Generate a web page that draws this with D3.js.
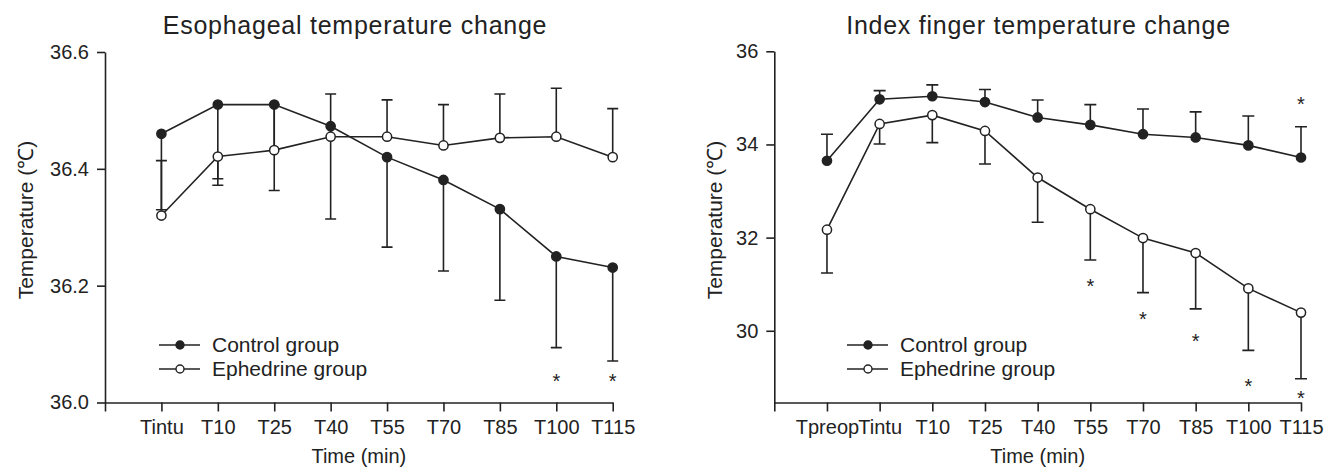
<!DOCTYPE html>
<html>
<head>
<meta charset="utf-8">
<script src="https://cdn.jsdelivr.net/npm/d3@7"></script>
<style>
    body { margin: 0; background: #fff; }
    svg text { font-family: "Liberation Sans", Arial, sans-serif; fill: #222; }
</style>
</head>
<body>
<div id="chart"></div>
<script>
//Data
const esoLabels = ["Tintu", "T10", "T25", "T40", "T55", "T70", "T85", "T100", "T115"]
const esoControl = [36.46, 36.51, 36.51, 36.473, 36.42, 36.381, 36.331, 36.25, 36.231]
const esoControlSD = [0.13, 0.138, 0.147, 0.159, 0.154, 0.156, 0.156, 0.156, 0.16]
const esoEphedrine = [36.32, 36.421, 36.432, 36.455, 36.455, 36.44, 36.453, 36.455, 36.42]
//negative value = bar drawn the other way in the figure (T10)
const esoEphedrineSD = [0.094, -0.038, 0.078, 0.073, 0.063, 0.07, 0.075, 0.083, 0.083]
const esoTicks = [36.0, 36.2, 36.4, 36.6]
const esoStars = [{i: 8, v: 36.044}, {i: 9, v: 36.044}]

const fingerLabels = ["Tpreop", "Tintu", "T10", "T25", "T40", "T55", "T70", "T85", "T100", "T115"]
const fingerControl = [33.65, 34.97, 35.035, 34.91, 34.58, 34.42, 34.22, 34.15, 33.98, 33.72]
const fingerControlSD = [0.57, 0.185, 0.245, 0.27, 0.375, 0.435, 0.54, 0.55, 0.63, 0.66]
const fingerEphedrine = [32.17, 34.44, 34.63, 34.29, 33.29, 32.61, 31.99, 31.67, 30.91, 30.39]
const fingerEphedrineSD = [0.93, 0.43, 0.59, 0.71, 0.96, 1.09, 1.17, 1.2, 1.33, 1.42]
const fingerTicks = [30, 32, 34, 36]
const fingerStars = [{i: 6, v: 31.04}, {i: 7, v: 30.34}, {i: 8, v: 29.86}, {i: 9, v: 28.90}, {i: 10, v: 28.64}, {i: 10, v: 34.955}]

const ink = "#222"

const $svg = d3.select("#chart").append("svg")
    .attr("width", 1328)
    .attr("height", 470)

function panel(opts) {
    const n = opts.labels.length
    const xScale = d3.scaleLinear()
        .domain([0, n])
        .range([opts.left, opts.right])
    const yScale = d3.scaleLinear()
        .domain(opts.yDomain)
        .range([402.5, opts.top])

    const $g = $svg.append("g")

    //axes
    $g.append("g")
        .attr("transform", `translate(0, ${yScale.range()[0]})`)
        .call(d3.axisBottom(xScale)
            .tickValues(d3.range(0, n + 1))
            .tickFormat(i => i === 0 ? "" : opts.labels[i - 1])
            .tickSize(9)
            .tickSizeOuter(0)
            .tickPadding(8))
        .call(g => g.select(".domain").attr("stroke", ink).attr("stroke-width", 1.6))
        .call(g => g.selectAll(".tick line").attr("stroke", ink).attr("stroke-width", 1.6))
        .call(g => g.selectAll(".tick text").attr("font-size", 20).attr("fill", ink))

    $g.append("g")
        .attr("transform", `translate(${opts.left}, 0)`)
        .call(d3.axisLeft(yScale)
            .tickValues(opts.ticks)
            .tickFormat(opts.format)
            .tickSize(8)
            .tickSizeOuter(0)
            .tickPadding(8))
        .call(g => g.select(".domain").attr("stroke", ink).attr("stroke-width", 1.6))
        .call(g => g.selectAll(".tick line").attr("stroke", ink).attr("stroke-width", 1.6))
        .call(g => g.selectAll(".tick text").attr("font-size", 20).attr("fill", ink))

    //titles
    $g.append("text")
        .attr("x", opts.titleX)
        .attr("y", 33.5)
        .attr("text-anchor", "middle")
        .attr("font-size", 25)
        .attr("letter-spacing", 0.75)
        .text(opts.title)

    $g.append("text")
        .attr("x", (opts.left + opts.right) / 2)
        .attr("y", 463)
        .attr("text-anchor", "middle")
        .attr("font-size", 20)
        .text("Time (min)")

    $g.append("text")
        .attr("transform", `translate(${opts.yLabelX}, 220) rotate(-90)`)
        .attr("text-anchor", "middle")
        .attr("font-size", 21)
        .text("Temperature (℃)")

    const series = [
        {values: opts.control, sd: opts.controlSD, dir: opts.controlDir, fill: ink},
        {values: opts.ephedrine, sd: opts.ephedrineSD, dir: -opts.controlDir, fill: "#fff"},
    ]
    const cap = opts.cap

    //error bars
    series.forEach(s => {
        const ends = s.values.map((v, k) => v + s.dir * s.sd[k])
        $g.append("g").selectAll("path")
            .data(s.values)
            .enter().append("path")
            .attr("fill", "none")
            .attr("stroke", ink)
            .attr("stroke-width", 1.6)
            .attr("d", (v, k) => {
                const x = xScale(k + 1)
                const y0 = yScale(v)
                const y1 = yScale(ends[k])
                return `M${x},${y0}V${y1}M${x - cap},${y1}H${x + cap}`
            })
    })

    //lines
    const line = d3.line()
        .x((d, k) => xScale(k + 1))
        .y(d => yScale(d))
    series.forEach(s => {
        $g.append("path")
            .datum(s.values)
            .attr("fill", "none")
            .attr("stroke", ink)
            .attr("stroke-width", 1.6)
            .attr("d", line)
    })

    //markers
    series.forEach(s => {
        $g.append("g").selectAll("circle")
            .data(s.values)
            .enter().append("circle")
            .attr("cx", (d, k) => xScale(k + 1))
            .attr("cy", d => yScale(d))
            .attr("r", 4.6)
            .attr("fill", s.fill)
            .attr("stroke", ink)
            .attr("stroke-width", 1.5)
    })

    //significance marks
    $g.append("g").selectAll("text")
        .data(opts.stars)
        .enter().append("text")
        .attr("x", d => xScale(d.i))
        .attr("y", d => yScale(d.v) + 11)
        .attr("text-anchor", "middle")
        .attr("font-size", 20)
        .text("*")

    //legend
    const $legend = $g.append("g")
        .attr("transform", `translate(${opts.legendX}, 345)`)
    series.forEach((s, k) => {
        const $row = $legend.append("g").attr("transform", `translate(0, ${k * 24})`)
        $row.append("line")
            .attr("x1", 0).attr("x2", 41)
            .attr("stroke", ink).attr("stroke-width", 1.6)
        $row.append("circle")
            .attr("cx", 21).attr("r", 4)
            .attr("fill", s.fill).attr("stroke", ink).attr("stroke-width", 1.4)
        $row.append("text")
            .attr("x", 53)
            .attr("dy", "0.35em")
            .attr("font-size", 21)
            .text(k === 0 ? "Control group" : "Ephedrine group")
    })
}

panel({
    title: "Esophageal temperature change",
    labels: esoLabels,
    control: esoControl, controlSD: esoControlSD,
    ephedrine: esoEphedrine, ephedrineSD: esoEphedrineSD,
    controlDir: -1,
    ticks: esoTicks, format: d3.format(".1f"),
    yDomain: [36.0, 36.6],
    stars: esoStars,
    left: 105, right: 612.7, top: 52,
    titleX: 355, yLabelX: 33, legendX: 159, cap: 5.5,
})

panel({
    title: "Index finger temperature change",
    labels: fingerLabels,
    control: fingerControl, controlSD: fingerControlSD,
    ephedrine: fingerEphedrine, ephedrineSD: fingerEphedrineSD,
    controlDir: 1,
    ticks: fingerTicks, format: d3.format("d"),
    yDomain: [28.46, 36],
    stars: fingerStars,
    left: 774.3, right: 1301, top: 51.3,
    titleX: 1038.5, yLabelX: 722, legendX: 847, cap: 6,
})
</script>
</body>
</html>
